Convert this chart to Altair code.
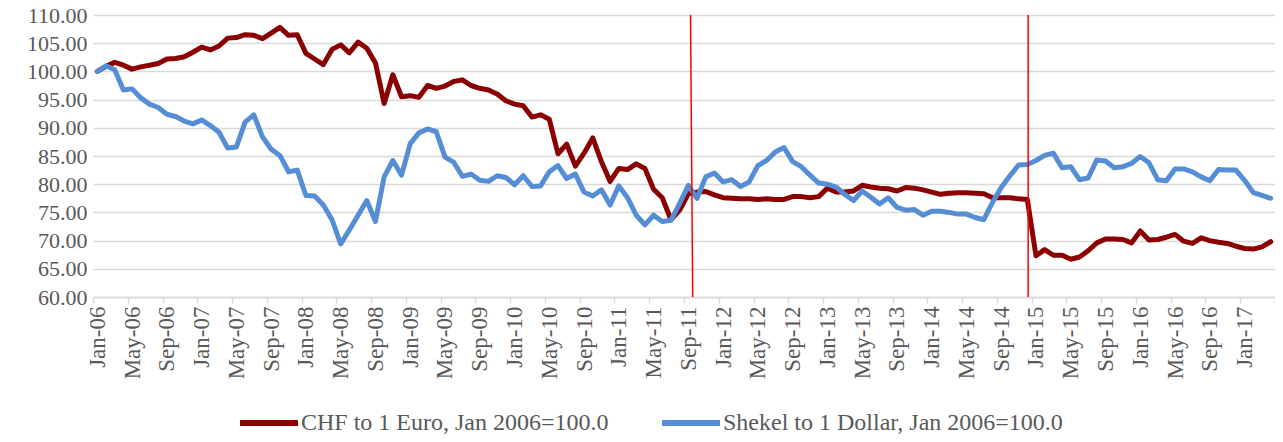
import json
import altair as alt
import pandas as pd

# Monthly index values, Jan-06 .. Apr-17
chf = [100.0, 100.9, 101.6, 101.1, 100.4, 100.8, 101.1, 101.4, 102.2, 102.3, 102.6, 103.4,
       104.3, 103.8, 104.5, 105.9, 106.0, 106.5, 106.4, 105.8, 106.8, 107.8, 106.4, 106.5,
       103.2, 102.2, 101.2, 103.9, 104.7, 103.3, 105.2, 104.1, 101.5, 94.3, 99.4, 95.5,
       95.7, 95.4, 97.5, 97.0, 97.4, 98.2, 98.5, 97.5, 97.0, 96.7, 96.0, 94.8,
       94.2, 93.9, 91.9, 92.3, 91.5, 85.4, 87.1, 83.2, 85.5, 88.2, 84.0, 80.5,
       82.8, 82.6, 83.6, 82.8, 79.1, 77.6, 73.7, 75.4, 78.3, 78.6, 78.7, 78.1,
       77.6, 77.5, 77.4, 77.4, 77.3, 77.4, 77.3, 77.3, 77.8, 77.8, 77.6, 77.8,
       79.3, 78.6, 78.6, 78.8, 79.8, 79.5, 79.3, 79.2, 78.8, 79.4, 79.3, 79.0,
       78.6, 78.2, 78.4, 78.5, 78.5, 78.4, 78.3, 77.6, 77.6, 77.6, 77.4, 77.3,
       67.3, 68.4, 67.4, 67.4, 66.7, 67.1, 68.2, 69.6, 70.3, 70.3, 70.2, 69.6,
       71.7, 70.1, 70.2, 70.6, 71.1, 69.9, 69.5, 70.5, 70.0, 69.7, 69.5, 69.0,
       68.6, 68.5, 68.9, 69.8]

shekel = [100.0, 101.0, 100.3, 96.7, 96.9, 95.3, 94.2, 93.6, 92.4, 92.0, 91.2, 90.7,
          91.4, 90.4, 89.2, 86.4, 86.6, 91.0, 92.3, 88.4, 86.2, 85.1, 82.2, 82.5,
          78.0, 77.9, 76.3, 73.7, 69.4, 71.9, 74.5, 77.1, 73.4, 81.3, 84.2, 81.6,
          87.2, 89.1, 89.8, 89.3, 84.8, 83.9, 81.4, 81.8, 80.7, 80.5, 81.5, 81.2,
          79.9, 81.5, 79.6, 79.7, 82.2, 83.3, 81.0, 81.8, 78.6, 77.9, 79.0, 76.3,
          79.7, 77.6, 74.5, 72.8, 74.5, 73.4, 73.6, 76.6, 79.8, 77.5, 81.3, 82.0,
          80.4, 80.8, 79.6, 80.4, 83.3, 84.2, 85.7, 86.5, 84.0, 83.1, 81.6, 80.2,
          80.0, 79.5, 78.2, 77.1, 78.8, 77.7, 76.5, 77.6, 75.9, 75.4, 75.5, 74.5,
          75.2, 75.2, 75.0, 74.7, 74.7, 74.1, 73.7, 76.8, 79.4, 81.5, 83.4, 83.5,
          84.2, 85.1, 85.5, 82.9, 83.1, 80.8, 81.1, 84.3, 84.1, 82.9, 83.1, 83.7,
          84.9, 83.8, 80.8, 80.6, 82.7, 82.7, 82.2, 81.3, 80.6, 82.6, 82.5, 82.5,
          80.7, 78.5, 78.0, 77.5]

series_names = ["CHF to 1 Euro, Jan 2006=100.0", "Shekel to 1 Dollar, Jan 2006=100.0"]
series_colors = ["#8B0000", "#558ED5"]

tick_labels = ["Jan-06", "May-06", "Sep-06", "Jan-07", "May-07", "Sep-07", "Jan-08",
               "May-08", "Sep-08", "Jan-09", "May-09", "Sep-09", "Jan-10", "May-10",
               "Sep-10", "Jan-11", "May-11", "Sep-11", "Jan-12", "May-12", "Sep-12",
               "Jan-13", "May-13", "Sep-13", "Jan-14", "May-14", "Sep-14", "Jan-15",
               "May-15", "Sep-15", "Jan-16", "May-16", "Sep-16", "Jan-17"]
y_ticks = [60, 65, 70, 75, 80, 85, 90, 95, 100, 105, 110]

# event marker lines (month-position at top and bottom of the plot)
event_top = [68.75, 107.6]
event_bottom = [69.0, 107.6]

n_months = 136
W, H = 1182, 282
FONT = "Liberation Serif"
GREY = "#595959"

rows = []
for name, vals in zip(series_names, [chf, shekel]):
    for i, v in enumerate(vals):
        rows.append({"t": i + 0.5, "value": v, "series": name})
df = pd.DataFrame(rows)

ev = pd.DataFrame({"xt": event_top, "xb": event_bottom,
                   "yt": [max(y_ticks)] * 2, "yb": [min(y_ticks)] * 2})

x_scale = alt.Scale(domain=[0, n_months], nice=False, zero=False)
y_scale = alt.Scale(domain=[min(y_ticks), max(y_ticks)], nice=False, zero=False)

label_expr = json.dumps(tick_labels) + "[round(datum.value/4)] || ''"

x_axis = alt.Axis(values=list(range(0, n_months + 1, 4)), labelExpr=label_expr,
                  labelAngle=270, labelAlign="right", labelBaseline="middle",
                  labelOffset=W / n_months / 2, labelPadding=3, labelOverlap=False,
                  labelFlush=False, labelBound=False,
                  grid=False, ticks=True, tickSize=6, tickColor="#D9D9D9",
                  tickWidth=1.5, domainColor="#D9D9D9", domainWidth=1.5,
                  labelFont=FONT, labelFontSize=23, labelColor=GREY, title=None)
y_axis = alt.Axis(values=y_ticks, format=".2f", grid=True, gridColor="#D9D9D9",
                  gridWidth=1.5, ticks=False, domain=False, labelPadding=6,
                  labelOverlap=False,
                  labelFont=FONT, labelFontSize=22, labelColor=GREY, title=None)

lines = alt.Chart(df).mark_line(strokeWidth=5, strokeJoin="round", strokeCap="round").encode(
    x=alt.X("t:Q", scale=x_scale, axis=x_axis),
    y=alt.Y("value:Q", scale=y_scale, axis=y_axis),
    color=alt.Color("series:N",
                    scale=alt.Scale(domain=series_names, range=series_colors),
                    legend=alt.Legend(orient="none", legendX=144, legendY=376,
                                      direction="horizontal", title=None, padding=0,
                                      symbolType="stroke", symbolSize=3364,
                                      symbolStrokeWidth=6, labelFont=FONT,
                                      labelFontSize=24, labelColor=GREY, labelLimit=0,
                                      columnPadding=41, labelOffset=0)),
    order=alt.Order("series:N"),
)

rules = alt.Chart(ev).mark_rule(color="#FF0000", strokeWidth=1.5).encode(
    x=alt.X("xt:Q", scale=x_scale, axis=x_axis), x2="xb:Q",
    y=alt.Y("yt:Q", scale=y_scale, axis=y_axis), y2="yb:Q",
)

chart = alt.layer(lines, rules).properties(
    width=W, height=H,
    autosize=alt.AutoSizeParams(type="none"),
    padding={"left": 85, "top": 7, "right": 0, "bottom": 137},
).configure_view(stroke=None).configure_axis(labelOverlap=False)

chart.save("out.html", embed_options={"renderer": "svg", "actions": False})
